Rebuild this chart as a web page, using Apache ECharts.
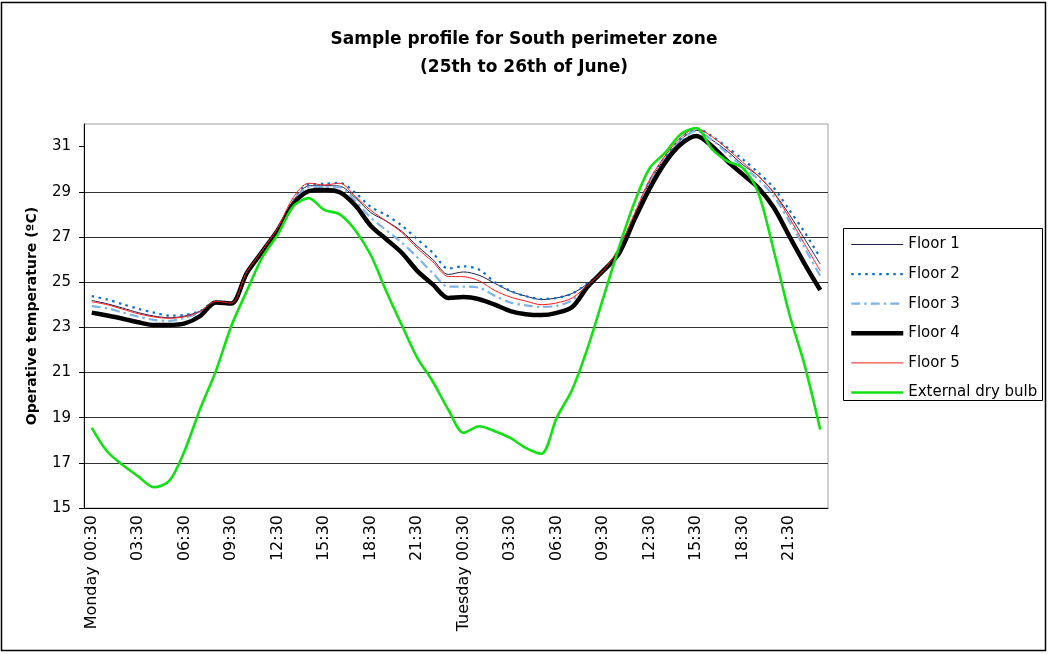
<!DOCTYPE html>
<html>
<head>
<meta charset="utf-8">
<script src="https://cdn.jsdelivr.net/npm/echarts@6/dist/echarts.min.js"></script>
<style>
  html, body { margin: 0; padding: 0; background: #fff; }
  #chart { width: 1048px; height: 654px; }
</style>
</head>
<body>
<div id="chart"></div>
<script>
// Hourly time stamps, 25th-26th June
const hours = [
  'Monday 00:30','01:30','02:30','03:30','04:30','05:30','06:30','07:30','08:30','09:30','10:30','11:30',
  '12:30','13:30','14:30','15:30','16:30','17:30','18:30','19:30','20:30','21:30','22:30','23:30',
  'Tuesday 00:30','01:30','02:30','03:30','04:30','05:30','06:30','07:30','08:30','09:30','10:30','11:30',
  '12:30','13:30','14:30','15:30','16:30','17:30','18:30','19:30','20:30','21:30','22:30','23:30'
];

// Operative temperature per floor (°C)
const floor1 = [24.19,24.04,23.85,23.65,23.50,23.42,23.50,23.72,24.15,24.07,25.40,26.35,
  27.35,28.60,29.26,29.27,29.25,28.74,28.08,27.70,27.25,26.60,26.00,25.34,
  25.45,25.30,24.95,24.60,24.38,24.23,24.30,24.50,24.93,25.50,26.45,27.93,
  29.45,30.50,31.30,31.72,31.30,30.80,30.20,29.70,28.96,28.00,26.90,25.80];
const floor2 = [24.38,24.23,24.02,23.82,23.65,23.52,23.55,23.72,24.15,24.08,25.40,26.35,
  27.35,28.60,29.33,29.35,29.40,28.96,28.33,27.97,27.50,26.90,26.30,25.60,
  25.70,25.55,25.00,24.62,24.38,24.25,24.30,24.50,24.95,25.50,26.45,27.95,
  29.50,30.55,31.35,31.80,31.47,30.96,30.44,29.85,29.18,28.20,27.20,26.08];
const floor3 = [23.94,23.84,23.65,23.47,23.33,23.28,23.42,23.65,24.12,24.06,25.40,26.35,
  27.30,28.55,29.20,29.22,29.20,28.60,27.85,27.30,26.75,26.10,25.40,24.80,
  24.80,24.75,24.40,24.10,23.97,23.90,23.95,24.20,24.88,25.50,26.40,27.90,
  29.40,30.45,31.25,31.70,31.30,30.70,30.10,29.55,28.80,27.70,26.50,25.27];
const floor4 = [23.65,23.52,23.38,23.22,23.10,23.10,23.17,23.50,24.10,24.05,25.40,26.35,
  27.30,28.45,29.03,29.08,28.98,28.40,27.50,26.90,26.30,25.50,24.90,24.30,
  24.34,24.24,24.00,23.72,23.58,23.54,23.64,23.90,24.80,25.50,26.25,27.75,
  29.15,30.30,31.10,31.47,31.03,30.36,29.77,29.18,28.30,27.04,25.80,24.65];
const floor5 = [24.13,24.00,23.80,23.60,23.46,23.40,23.47,23.70,24.15,24.07,25.45,26.40,
  27.40,28.75,29.38,29.30,29.38,28.80,28.18,27.70,27.20,26.50,25.90,25.25,
  25.24,25.05,24.63,24.34,24.16,24.00,24.08,24.30,24.87,25.50,26.50,28.00,
  29.55,30.60,31.40,31.80,31.45,30.90,30.30,29.70,28.96,27.85,26.67,25.50];
// External dry bulb temperature (°C)
const external = [18.55,17.50,16.90,16.40,15.92,16.20,17.55,19.40,21.05,23.05,24.60,26.10,
  27.10,28.35,28.72,28.20,28.00,27.30,26.20,24.60,23.10,21.65,20.60,19.36,
  18.33,18.62,18.40,18.10,17.66,17.40,19.00,20.25,22.10,24.30,26.50,28.50,
  30.05,30.73,31.55,31.82,30.90,30.36,30.05,28.96,26.40,23.60,21.30,18.47];

const yTicks = [15, 17, 19, 21, 23, 25, 27, 29, 31];
const seriesNames = ['Floor 1', 'Floor 2', 'Floor 3', 'Floor 4', 'Floor 5', 'External dry bulb'];

const FONT = 'DejaVu Sans';
const chart = echarts.init(document.getElementById('chart'), null, { renderer: 'canvas' });

function line(name, data, style) {
  return {
    name: name,
    type: 'line',
    data: data,
    smooth: 0.3,
    symbol: 'none',
    showSymbol: false,
    lineStyle: style,
    itemStyle: { color: style.color },
    emphasis: { disabled: true }
  };
}

chart.setOption({
  animation: false,
  backgroundColor: '#ffffff',
  title: {
    text: 'Sample profile for South perimeter zone\n(25th to 26th of June)',
    left: 'center',
    top: 21,
    textStyle: { fontFamily: FONT, fontSize: 17, fontWeight: 'bold', color: '#000', lineHeight: 28 }
  },
  graphic: [
    { type: 'rect', z: -1, shape: { x: 1.5, y: 2.5, width: 1044, height: 648 },
      style: { fill: 'none', stroke: '#000', lineWidth: 1.5 } },
    { type: 'rect', shape: { x: 843.5, y: 228.5, width: 199, height: 172 },
      style: { fill: 'none', stroke: '#000', lineWidth: 1 } }
  ],
  legend: {
    orient: 'vertical',
    left: 849,
    top: 237,
    itemWidth: 52,
    itemHeight: 14,
    itemGap: 14.6,
    padding: 0,
    data: seriesNames,
    // line-only keys: hide the marker drawn in the middle of each key
    itemStyle: { opacity: 0 },
    lineStyle: { width: 'inherit', type: 'inherit', color: 'inherit' },
    textStyle: { fontFamily: FONT, fontSize: 15, color: '#000', lineHeight: 14 }
  },
  grid: {
    left: 84, top: 124, right: 220, bottom: 146,
    show: true, borderColor: '#a0a0a0', borderWidth: 1, backgroundColor: '#fff'
  },
  xAxis: {
    type: 'category',
    data: hours,
    boundaryGap: true,
    axisLine: { lineStyle: { color: '#000', width: 1 } },
    axisTick: { interval: 0, length: 5, lineStyle: { color: '#000' } },
    axisLabel: {
      interval: 2, rotate: 90, margin: 7,
      fontFamily: FONT, fontSize: 16, color: '#000'
    },
    splitLine: { show: false }
  },
  yAxis: {
    type: 'value',
    min: 15, max: 32, interval: 2,
    name: 'Operative temperature (ºC)',
    nameLocation: 'middle',
    nameGap: 45,
    nameTextStyle: { fontFamily: FONT, fontSize: 14, fontWeight: 'bold', color: '#000' },
    axisLine: { show: true, lineStyle: { color: '#000', width: 1 } },
    axisTick: { show: true, length: 5, lineStyle: { color: '#000' }, customValues: yTicks },
    axisLabel: { fontFamily: FONT, fontSize: 15, color: '#000', margin: 13, customValues: yTicks },
    splitLine: { show: true, showMinLine: false, showMaxLine: false, lineStyle: { color: '#333', width: 1 } }
  },
  series: [
    line('Floor 1', floor1, { color: '#1f1f4f', width: 1 }),
    line('Floor 2', floor2, { color: '#0a6fcc', width: 2.2, type: [2.5, 4.5] }),
    line('Floor 3', floor3, { color: '#7db3e6', width: 2.2, type: [9, 4, 2.5, 4] }),
    line('Floor 4', floor4, { color: '#000000', width: 4.5 }),
    line('Floor 5', floor5, { color: '#ff1a1a', width: 1 }),
    line('External dry bulb', external, { color: '#11e011', width: 2.6 })
  ]
});
</script>
</body>
</html>
